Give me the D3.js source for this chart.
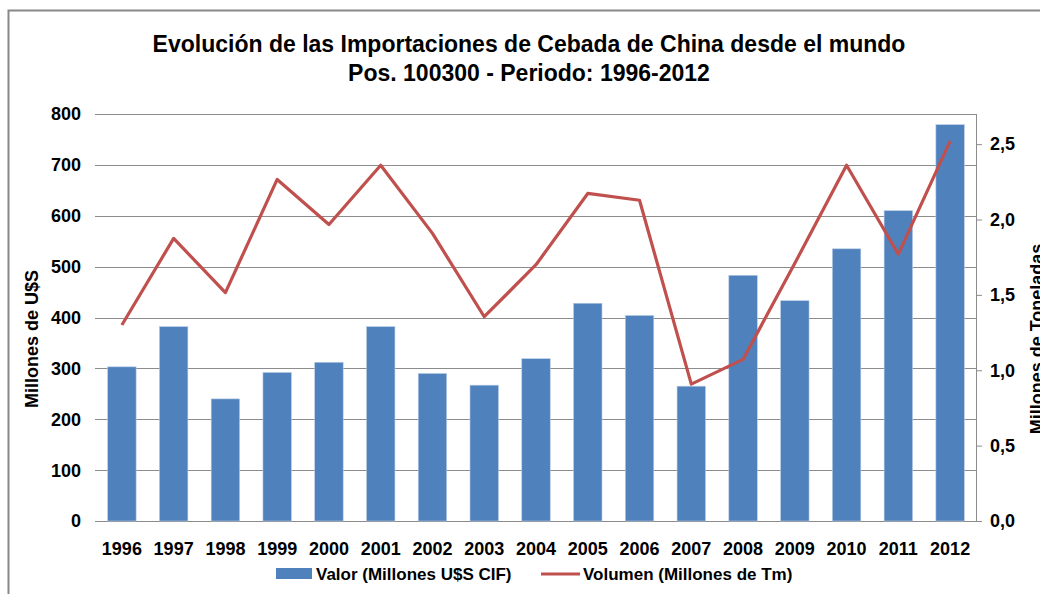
<!DOCTYPE html>
<html><head><meta charset="utf-8">
<script src="https://cdn.jsdelivr.net/npm/d3@7"></script>
<style>
html,body{margin:0;padding:0;background:#fff;}
svg{display:block;}
text{font-family:"Liberation Sans",Arial,sans-serif;font-weight:bold;fill:#000;}
</style></head>
<body>
<script>
const years = ["1996","1997","1998","1999","2000","2001","2002","2003","2004","2005","2006","2007","2008","2009","2010","2011","2012"];
const valor = [303,382,240,292,312,382,290,267,319,428,404,265,483,433,535,610,779];
const volumen = [1.30,1.875,1.515,2.266,1.967,2.36,1.908,1.355,1.70,2.173,2.128,0.908,1.072,1.71,2.36,1.77,2.52];
const leftTicks = [0,100,200,300,400,500,600,700,800];
const rightTicks = [0,0.5,1.0,1.5,2.0,2.5];
const titleLines = ["Evolución de las Importaciones de Cebada de China desde el mundo","Pos. 100300 - Periodo: 1996-2012"];
const legendLabels = ["Valor (Millones U$S CIF)","Volumen (Millones de Tm)"];

const W=1040,H=594;
const svg=d3.select("body").append("svg").attr("width",W).attr("height",H);
const L=96,R=976,T=114,B=521;

// frame
svg.append("path").attr("d",`M8.5,${H} V10.5 H${W}`).attr("fill","none").attr("stroke","#888").attr("stroke-width",2);

const x=d3.scaleBand().domain(years).range([L,R]).paddingInner(0.45).paddingOuter(0.225);
const yL=d3.scaleLinear().domain([0,800]).range([B,T]);
const yR=d3.scaleLinear().domain([0,2.7]).range([B,T]);

// gridlines
svg.append("g").selectAll("line").data(leftTicks).join("line")
  .attr("x1",L-1).attr("x2",R).attr("y1",d=>Math.round(yL(d))+0.5).attr("y2",d=>Math.round(yL(d))+0.5)
  .attr("stroke","#8c8c8c").attr("stroke-width",1);

// left tick labels
svg.append("g").selectAll("text").data(leftTicks).join("text")
  .attr("x",81).attr("y",d=>yL(d)).attr("dy","0.36em").attr("text-anchor","end")
  .style("font-size","18px").text(d=>d);

// right axis
const rAxis=svg.append("g").attr("transform",`translate(${R},0)`)
  .call(d3.axisRight(yR).tickValues(rightTicks).tickSize(6).tickPadding(8).tickFormat(d=>d3.format(".1f")(d).replace(".",",")));
rAxis.select(".domain").attr("stroke","#8c8c8c").attr("d",`M0.5,${T}V${B}`);
rAxis.selectAll(".tick line").attr("stroke","#8c8c8c");
rAxis.selectAll(".tick text").style("font-size","18px").style("font-family","Liberation Sans, Arial, sans-serif").style("font-weight","bold").attr("fill","#000");

// bars
svg.append("g").selectAll("rect").data(valor).join("rect")
  .attr("x",(d,i)=>x(years[i])).attr("width",x.bandwidth())
  .attr("y",d=>yL(d)).attr("height",d=>B-yL(d))
  .attr("fill","#4F81BD").attr("stroke","#b9cde5").attr("stroke-width",0.6);

// line
const line=d3.line().x((d,i)=>x(years[i])+x.bandwidth()/2).y(d=>yR(d));
svg.append("path").datum(volumen).attr("d",line).attr("fill","none")
  .attr("stroke","#C0504D").attr("stroke-width",3.2).attr("stroke-linejoin","round");

// x labels
svg.append("g").selectAll("text").data(years).join("text")
  .attr("x",d=>x(d)+x.bandwidth()/2).attr("y",555).attr("text-anchor","middle")
  .style("font-size","18px").text(d=>d);

// title
svg.append("g").selectAll("text").data(titleLines).join("text")
  .attr("x",529).attr("y",(d,i)=>52+i*29).attr("text-anchor","middle")
  .style("font-size","23px").text(d=>d);

// axis titles
svg.append("text").attr("transform","translate(38,339) rotate(-90)").attr("text-anchor","middle")
  .style("font-size","18px").text("Millones de U$S");
svg.append("text").attr("transform","translate(1043,339) rotate(-90)").attr("text-anchor","middle")
  .style("font-size","18px").text("Millones de Toneladas");

// legend
const lg=svg.append("g");
lg.append("rect").attr("x",276).attr("y",568).attr("width",36).attr("height",11).attr("fill","#4F81BD");
lg.append("text").attr("x",316).attr("y",580).style("font-size","17px").text(legendLabels[0]);
lg.append("line").attr("x1",541).attr("x2",580).attr("y1",574).attr("y2",574).attr("stroke","#C0504D").attr("stroke-width",3.2);
lg.append("text").attr("x",583).attr("y",580).style("font-size","17px").text(legendLabels[1]);
</script>
</body></html>
